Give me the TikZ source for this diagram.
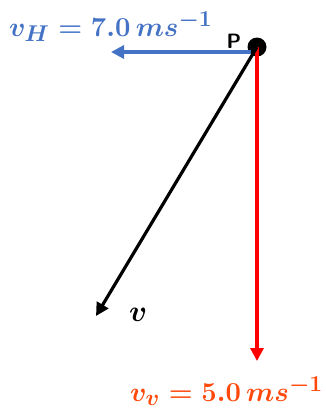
\documentclass[tikz,border=0pt]{standalone}
\usepackage{graphicx}
\usepackage{amsmath,bm}
\usetikzlibrary{arrows.meta}
\definecolor{hblue}{RGB}{68,114,196}
\definecolor{vred}{RGB}{255,0,0}
\definecolor{vorange}{RGB}{255,72,10}
\tikzset{
  vec/.style={line width=3.2pt,-{Triangle[length=13pt,width=13pt]}},
  lbl/.style={inner sep=0pt,font=\fontsize{24.88}{28}\selectfont\boldmath}
}
\newcommand{\bigtxt}[1]{\scalebox{1.1}{#1}}
\begin{document}
\begin{tikzpicture}[x=1pt,y=-1pt]
\useasboundingbox (0,0) rectangle (325,410);
\node[circle,fill=black,minimum size=19pt,inner sep=0pt] (P) at (257,47) {};
\coordinate (H) at (111,52);
\coordinate (V) at (257,361);
\coordinate (R) at (96,316);
\draw[vec,hblue,line width=3.8pt] (P.center) ++(-6,5) coordinate (Ps) -- (H);
\draw[vec,vred] (P.center) -- (V);
\draw[vec,black] (P.center) -- (R);
\node[inner sep=0pt,font=\fontsize{20.74}{22}\selectfont\sffamily\bfseries] (Pl) at (234,41) {P};
\node[lbl,hblue,anchor=base west] (lh) at (9,36) {\bigtxt{$v_H = 7.0\,ms^{-1}$}};
\node[lbl,black,anchor=base west] (lv) at (129,321) {\scalebox{1.2}{$v$}};
\node[lbl,vorange,anchor=base west] (lvv) at (130,401) {\bigtxt{$v_v = 5.0\,ms^{-1}$}};
\end{tikzpicture}
\end{document}
